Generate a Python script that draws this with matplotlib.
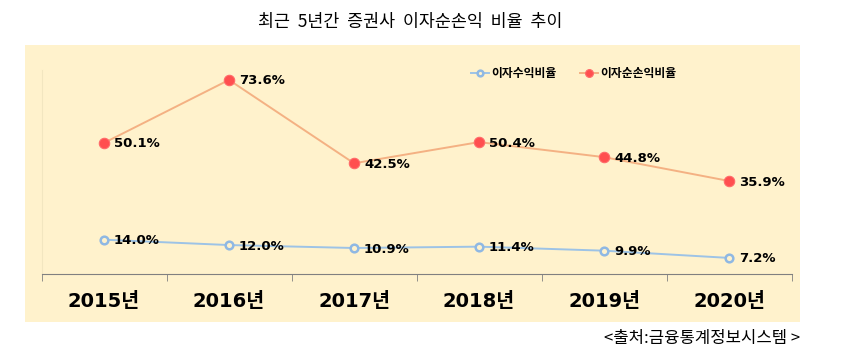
import matplotlib
matplotlib.use('Agg')
import matplotlib.pyplot as plt

plt.rcParams['font.family'] = ['Noto Sans CJK KR', 'DejaVu Sans']
WIDE = ['DejaVu Sans', 'Noto Sans CJK KR']

years = ['2015년', '2016년', '2017년', '2018년', '2019년', '2020년']
interest_income = [14.0, 12.0, 10.9, 11.4, 9.9, 7.2]
net_interest = [50.1, 73.6, 42.5, 50.4, 44.8, 35.9]

fig = plt.figure(figsize=(8.55, 3.58), dpi=100)
W, H = 855, 358

# beige panel behind the chart
bg = fig.add_axes([25 / W, 1 - 322 / H, 775 / W, 277 / H], zorder=0)
bg.set_facecolor('#FFF2CC')
bg.set_xticks([])
bg.set_yticks([])
for s in bg.spines.values():
    s.set_visible(False)

ax = fig.add_axes([41.5 / W, 84 / H, 750 / W, 204 / H], zorder=1)
ax.set_facecolor('none')
x = list(range(len(years)))

ax.plot(x, interest_income, color='#9DC3E6', lw=1.4, marker='o', ms=5.5,
        mfc='#FFF2CC', mec='#8FB8E3', mew=1.8, label='이자수익비율')
ax.plot(x, net_interest, color='#F4B183', lw=1.4, marker='o', ms=7.5,
        mfc='#FF4F4F', mec='#FF6A6A', mew=0.8, label='이자순손익비율')

for xi, v in zip(x, interest_income):
    ax.text(xi + 0.08, v - 0.4, f'{v:.1f}%', fontsize=9.5, fontweight='bold',
            va='center', ha='left', family=WIDE)
for xi, v in zip(x, net_interest):
    ax.text(xi + 0.08, v - 0.4, f'{v:.1f}%', fontsize=9.5, fontweight='bold',
            va='center', ha='left', family=WIDE)

ax.set_xlim(-0.5, 5.5)
ax.set_ylim(1.2, 77.3)
ax.set_yticks([])
ax.set_xticks(x)
ax.set_xticklabels(years, fontsize=14, fontweight='bold', family=WIDE)
ax.set_xticks([i - 0.5 for i in range(7)], minor=True)
ax.tick_params(axis='x', which='major', length=0, pad=13)
ax.tick_params(axis='x', which='minor', length=5, color='#808080', direction='out')
for s in ['top', 'right']:
    ax.spines[s].set_visible(False)
ax.spines['bottom'].set_color('#808080')
ax.spines['left'].set_color('#F2E6C0')

leg = ax.legend(loc='upper center', bbox_to_anchor=(0.71, 1.065), ncol=2,
                frameon=False, prop={'size': 8.5, 'weight': 'bold'},
                handlelength=1.5, columnspacing=2.0, handletextpad=0.2,
                markerscale=0.75)

fig.text(410 / W, 1 - 22 / H, '최근  5년간  증권사  이자순손익  비율  추이',
         ha='center', va='center', fontsize=12.5)
fig.text(800 / W, 1 - 339 / H, '<출처:금융통계정보시스템 >', ha='right',
         va='center', fontsize=12)

fig.savefig('out.png', dpi=100)
